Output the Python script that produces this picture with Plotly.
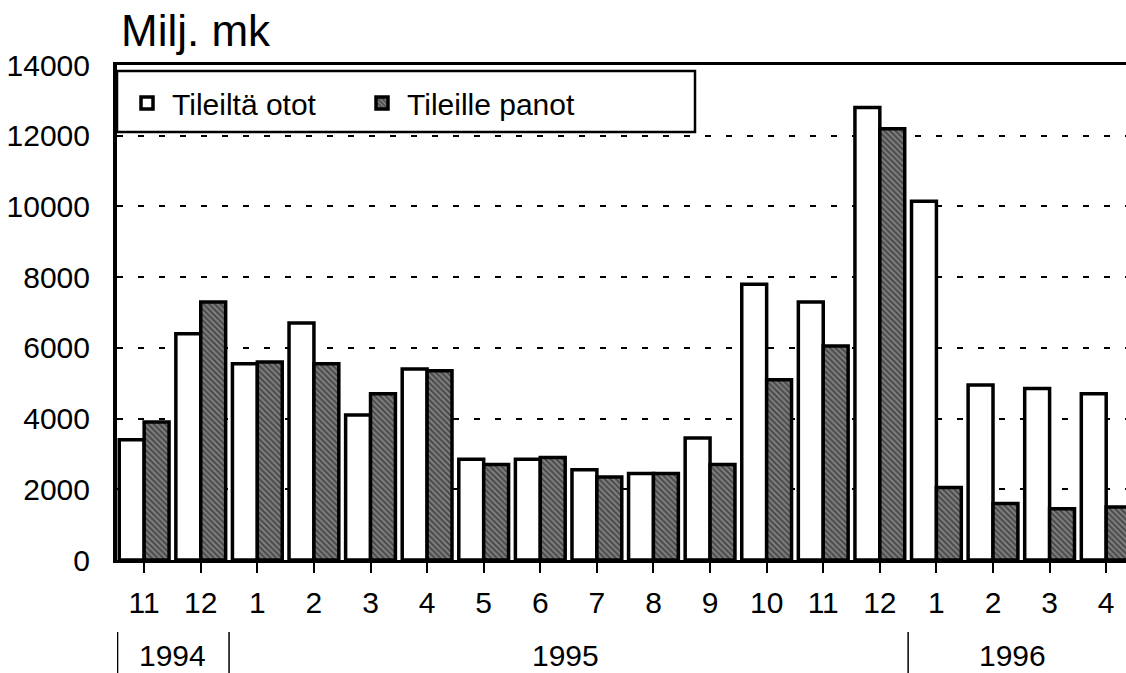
import plotly.graph_objects as go

# ---- data ----
months = ["11", "12", "1", "2", "3", "4", "5", "6", "7", "8", "9", "10", "11", "12", "1", "2", "3", "4"]
years = ["1994", "1995", "1996"]
year_start_idx = [0, 2, 14]          # index of first month in each year
year_label_pos = [0.5, 7.45, 15.35]  # where each year label sits on the month axis
ototot = [3400, 6400, 5550, 6700, 4100, 5400, 2850, 2850, 2550, 2450, 3450, 7800, 7300, 12800, 10150, 4950, 4850, 4700]
panot = [3900, 7300, 5600, 5550, 4700, 5350, 2700, 2900, 2350, 2450, 2700, 5100, 6050, 12200, 2050, 1600, 1450, 1500]
series_names = ["Tileiltä otot", "Tileille panot"]
y_ticks = [0, 2000, 4000, 6000, 8000, 10000, 12000, 14000]
y_ticktext = [str(v) for v in y_ticks]

FONT = "Liberation Sans, Arial, Helvetica, sans-serif"
x_idx = list(range(len(months)))
X_RANGE = [-0.48, 17.35]

fig = go.Figure()
fig.add_trace(go.Bar(
    x=x_idx, y=ototot, name=series_names[0],
    marker=dict(color="white", line=dict(color="black", width=3.5)),
))
fig.add_trace(go.Bar(
    x=x_idx, y=panot, name=series_names[1],
    marker=dict(color="#606060", line=dict(color="black", width=3.5),
                pattern=dict(shape="\\", fgcolor="#111111", bgcolor="#808080",
                             size=4, solidity=0.5)),
))

W, H = 1126, 673
ML, MR, MT, MB = 117, 0, 65, 113
plot_w = W - ML - MR
plot_h = H - MT - MB

fig.update_layout(
    width=W, height=H,
    margin=dict(l=ML, r=MR, t=MT, b=MB, pad=0),
    paper_bgcolor="white", plot_bgcolor="white",
    barmode="group", bargap=0.12, bargroupgap=0.0,
    font=dict(family=FONT, size=30, color="black"),
    showlegend=True,
    legend=dict(orientation="h", x=(122 - ML) / plot_w, y=1 - (103 - MT) / plot_h,
                xanchor="left", yanchor="middle",
                bgcolor="rgba(0,0,0,0)", borderwidth=0,
                font=dict(family=FONT, size=30, color="black"),
                itemwidth=40, entrywidth=180, entrywidthmode="pixels",
                traceorder="normal"),
    xaxis=dict(
        range=X_RANGE,
        tickmode="array", tickvals=x_idx, ticktext=months,
        ticks="outside", ticklen=10, tickwidth=1.5, tickcolor="black",
        ticklabelstandoff=4,
        showline=True, linecolor="black", linewidth=3, mirror=True,
        showgrid=False, zeroline=False,
        tickfont=dict(family=FONT, size=30, color="black"),
    ),
    yaxis=dict(
        range=[0, 14000],
        tickmode="array", tickvals=y_ticks, ticktext=y_ticktext,
        ticks="", ticklabelstandoff=17,
        showline=True, linecolor="black", linewidth=4,
        showgrid=True, gridcolor="black", gridwidth=2, griddash="6px,15px",
        zeroline=False,
        tickfont=dict(family=FONT, size=30, color="black"),
    ),
)

# legend frame
fig.add_shape(type="rect", xref="paper", yref="paper",
              x0=0.0, x1=(695 - ML) / plot_w,
              y0=1 - (132 - MT) / plot_h, y1=1 - (71 - MT) / plot_h,
              line=dict(color="black", width=2.5), fillcolor="white", layer="below")

# unit title
fig.add_annotation(text="Milj. mk", xref="paper", yref="paper", x=0, y=1,
                   xanchor="left", yanchor="bottom", xshift=2, yshift=8,
                   showarrow=False, font=dict(family=FONT, size=44, color="black"))

# year labels and separators
for yr, pos, s in zip(years, year_label_pos, year_start_idx):
    fig.add_annotation(text=yr, xref="x", yref="paper", x=pos, y=-(655 - 560) / plot_h,
                       xanchor="center", yanchor="middle", showarrow=False,
                       font=dict(family=FONT, size=30, color="black"))
    sep = max(s - 0.5, X_RANGE[0] + 0.01)
    fig.add_shape(type="line", xref="x", yref="paper", x0=sep, x1=sep,
                  y0=-(632 - 560) / plot_h, y1=-(673 - 560) / plot_h,
                  line=dict(color="black", width=1.5))

fig.write_html("out.html", config={"displayModeBar": False},
               post_script="document.body.style.margin='0';document.body.style.overflow='hidden';")
